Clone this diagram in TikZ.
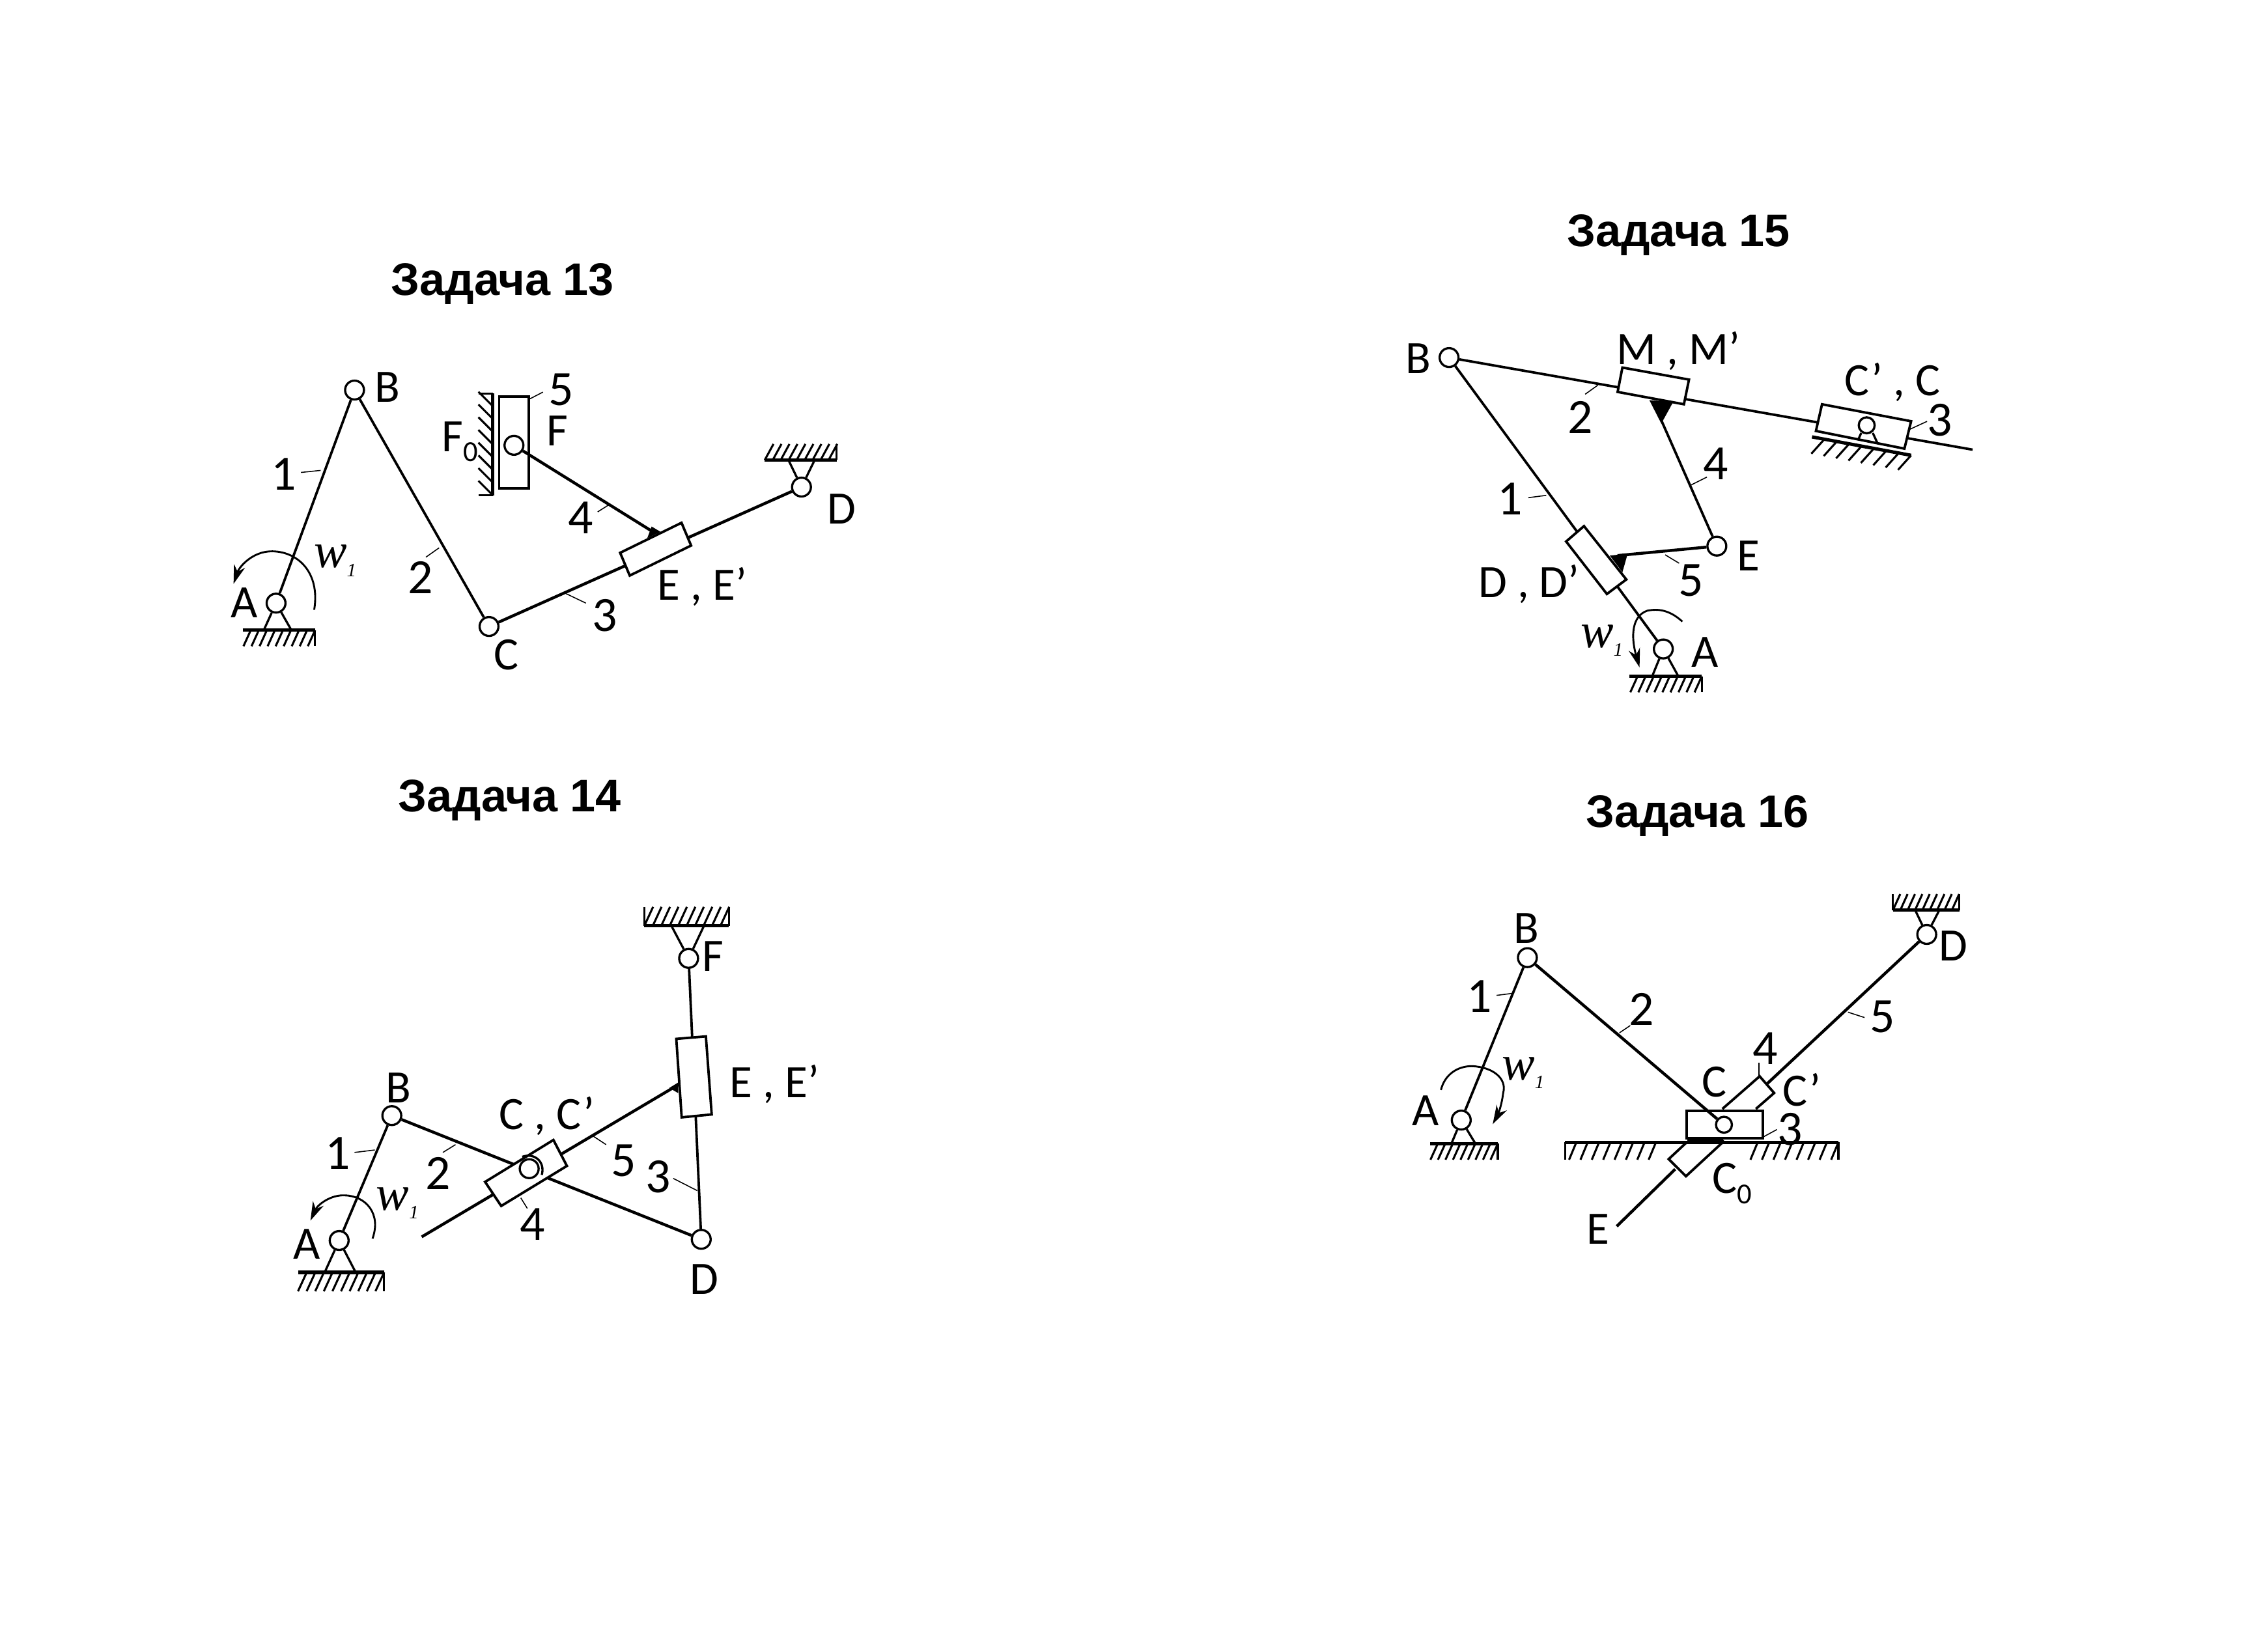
\documentclass[tikz,border=0pt]{standalone}
\usepackage{fontspec}
\setmainfont{Carlito}
\newfontfamily\titlefont{Liberation Sans}
\newfontfamily\omegafont{Liberation Serif}
\usetikzlibrary{calc,arrows.meta}
\tikzset{
  joint/.style={circle,draw=black,fill=white,line width=1.5pt,minimum size=13pt,inner sep=0pt},
  link/.style={draw=black,line width=2pt},
  thinlink/.style={draw=black,line width=1.7pt},
  support/.style={draw=black,line width=1.5pt},
  sliderbox/.style={draw=black,fill=white,line width=1.7pt,line join=miter},
  leadline/.style={draw=black,line width=0.7pt},
  wallline/.style={draw=black,line width=2.3pt},
  hatchline/.style={draw=black,line width=1.4pt},
  spinarrow/.style={draw=black,line width=1.3pt,-{Stealth[length=13pt,width=8pt]}},
  lbl/.style={font=\fontsize{32}{33}\selectfont,inner sep=0pt},
  numlbl/.style={font=\fontsize{34}{36}\selectfont,inner sep=0pt},
  titlelbl/.style={font=\titlefont\bfseries\fontsize{31.5}{33}\selectfont,inner sep=0pt},
  omegalbl/.style={font=\omegafont\itshape\fontsize{34}{35}\selectfont,inner sep=0pt},
  blacktri/.style={fill=black,draw=none}
}
\newcommand\omegatext{w\raisebox{-6pt}{\fontsize{13}{14}\selectfont 1}}
\newcommand\wallhatch[5]{%
  \draw[wallline] (#1) -- (#2);
  \foreach \i in {1,...,#3}{\draw[hatchline] ($(#1)!\i/#3!(#2)$) -- ++(#4,#5);}
}
\begin{document}
\begin{tikzpicture}[x=1pt,y=-1pt]
\useasboundingbox (0,0) rectangle (1560,1138.5);
\fill[white] (0,0) rectangle (1560,1138.5);
\begin{scope}[shift={(-1,-1.5)}]

% ---------- Problem 13 ----------
\node[titlelbl] (t13) at (347.5,197) {Задача 13};
\coordinate (g13a) at (168.3,436); \coordinate (g13b) at (218.2,436);
\wallhatch{g13a}{g13b}{9}{-5}{11}
\draw[hatchline] (g13b) -- ++(0,11);
\coordinate (g13c) at (577.7,318.6); \coordinate (g13d) at (528.2,318.6);
\wallhatch{g13c}{g13d}{9}{6}{-11}
\draw[hatchline] (g13c) -- ++(0,-11);
\coordinate (w13a) at (340.8,272.8); \coordinate (w13b) at (340.8,343);
\wallhatch{w13a}{w13b}{8}{-10}{-10}
\draw[hatchline] (w13a) -- ++(-10,0);
\draw[hatchline] (w13b) -- ++(-10,0);
\node[joint] (A13) at (191.3,417.3) {};
\node[joint] (B13) at (245.4,270.4) {};
\node[joint] (C13) at (338.1,433.4) {};
\node[joint] (D13) at (553.5,337.3) {};
\draw[support] (A13) -- (182.8,436);
\draw[support] (A13) -- (201.9,436);
\draw[support] (D13) -- (544.5,318.6);
\draw[support] (D13) -- (562.6,318.6);
\draw[thinlink] (A13) -- (B13);
\draw[thinlink] (B13) -- (C13);
\draw[link] (C13) -- (D13);
\draw[sliderbox] (428.5,382.6) -- (470.8,361.9) -- (477.4,377.6) -- (435.1,398.3) -- cycle;
\draw[sliderbox] (345.1,274.9) rectangle (365.6,338.3);
\node[joint] (F13) at (355.3,308.5) {};
\coordinate (E13) at (451.7,368.5);
\draw[link] (F13) -- (E13);
\fill[blacktri] (447.2,372.5) -- (456.3,368.1) -- (450.2,364.5) -- cycle;
\draw[spinarrow] (217.6,421.9) .. controls (222,395) and (205,381) .. (187.4,381.6) .. controls (175,382) and (166,392) .. (162,404);
\draw[leadline] (208.5,327.2) -- (222,325.8);
\draw[leadline] (294.6,385.6) -- (303.7,379.2);
\draw[leadline] (391.3,410.8) -- (404.9,417.3);
\draw[leadline] (413,354.4) -- (420.9,349.4);
\draw[leadline] (366.2,276.5) -- (375.3,271.8);
\node[numlbl] (n13a) at (196.4,328.2) {1};
\node[numlbl] (n13b) at (290.7,399.7) {2};
\node[numlbl] (n13c) at (417.9,425.9) {3};
\node[numlbl] (n13d) at (401.3,358.4) {4};
\node[numlbl] (n13e) at (387.8,270) {5};
\node[lbl] (l13A) at (169.2,417) {A};
\node[lbl] (l13B) at (268,268.5) {B};
\node[lbl] (l13C) at (350,453) {C};
\node[lbl] (l13D) at (581,352.4) {D};
\node[lbl] (l13F) at (385.3,298.5) {F};
\node[lbl] (l13Fo) at (318,306) {F\raisebox{-7pt}{\fontsize{20}{20}\selectfont 0}};
\node[lbl] (l13E) at (485,406) {E , E’};
\node[omegalbl] (l13w) at (232,388) {\omegatext};

% ---------- Problem 14 ----------
\node[titlelbl] (t14) at (352.5,553.4) {Задача 14};
\coordinate (g14a) at (206.5,878.7); \coordinate (g14b) at (265.8,878.7);
\wallhatch{g14a}{g14b}{10}{-6}{13}
\draw[hatchline] (g14b) -- ++(0,13);
\coordinate (g14c) at (503.5,639.7); \coordinate (g14d) at (445.2,639.7);
\wallhatch{g14c}{g14d}{10}{6}{-13}
\draw[hatchline] (g14c) -- ++(0,-13);
\draw[hatchline] (g14d) -- ++(0,-13);
\node[joint] (A14) at (234.8,856.7) {};
\node[joint] (B14) at (271.1,770.6) {};
\node[joint] (D14) at (484.4,855.9) {};
\node[joint] (F14) at (475.7,662.2) {};
\draw[support] (A14) -- (224.8,878.7);
\draw[support] (A14) -- (246.2,878.7);
\draw[support] (F14) -- (463.8,639.7);
\draw[support] (F14) -- (486.3,639.7);
\draw[thinlink] (A14) -- (B14);
\draw[link] (B14) -- (D14);
\draw[thinlink] (F14) -- (D14);
\coordinate (e14a) at (291.7,854.2);
\coordinate (E14) at (469.1,749);
\draw[link] (e14a) -- (E14);
\draw[sliderbox] (467.2,717.7) -- (487.6,716) -- (491.6,769.8) -- (470.9,771.8) -- cycle;
\draw[sliderbox] (335.4,816.3) -- (382.5,787.4) -- (391.8,805.3) -- (346.5,832.9) -- cycle;
\fill[blacktri] (462.4,751.5) -- (468.5,747.8) -- (468.5,755.1) -- cycle;
\node[joint] (C14) at (365.8,807.2) {};
\draw[support] (361,799) .. controls (369,796) and (377,802) .. (374.5,811.5);
\draw[spinarrow] (257.8,855.4) .. controls (264,838) and (253,826) .. (238.8,825.6) .. controls (229,825) and (220,832) .. (215,843);
\draw[leadline] (245.4,796) -- (259.4,794.3);
\draw[leadline] (306.3,796) -- (315,790.6);
\draw[leadline] (409.5,784.5) -- (418.8,790.6);
\draw[leadline] (465.1,813.9) -- (481.8,822.4);
\draw[leadline] (360,827.3) -- (364.5,834.6);
\node[numlbl] (n14a) at (234,796.7) {1};
\node[numlbl] (n14b) at (302.8,810.2) {2};
\node[numlbl] (n14c) at (454.5,812.6) {3};
\node[numlbl] (n14d) at (368,845.6) {4};
\node[numlbl] (n14e) at (430.7,801.6) {5};
\node[lbl] (l14A) at (212.3,859.1) {A};
\node[lbl] (l14B) at (275.8,751.5) {B};
\node[lbl] (l14C) at (378,771) {C , C’};
\node[lbl] (l14D) at (486.3,883.6) {D};
\node[lbl] (l14E) at (535,749) {E , E’};
\node[lbl] (l14F) at (492.4,661) {F};
\node[omegalbl] (l14w) at (275,831) {\omegatext};

% ---------- Problem 15 ----------
\node[titlelbl] (t15) at (1158,163.5) {Задача 15};
\coordinate (g15a) at (1124.3,467.8); \coordinate (g15b) at (1174.1,467.8);
\wallhatch{g15a}{g15b}{9}{-5}{11}
\draw[hatchline] (g15b) -- ++(0,11);
\coordinate (g15c) at (1250.1,302.7); \coordinate (g15d) at (1318.4,315.4);
\wallhatch{g15c}{g15d}{8}{-9}{10}
\node[joint] (B15) at (999.9,248) {};
\node[joint] (A15) at (1147.6,448.9) {};
\node[joint] (E15) at (1184.5,378) {};
\coordinate (e15end) at (1360.8,311.5);
\draw[support] (A15) -- (1139.9,467.8);
\draw[support] (A15) -- (1158,467.8);
\draw[thinlink] (B15) -- (A15);
\draw[thinlink] (B15) -- (e15end);
\draw[sliderbox] (1119.4,254.9) -- (1165.3,263.2) -- (1161.8,280.2) -- (1116.1,271.7) -- cycle;
\draw[sliderbox] (1257,280.2) -- (1318.4,291.9) -- (1313.8,310.8) -- (1252.8,298.6) -- cycle;
\draw[sliderbox] (1092.9,364.2) -- (1122.1,401) -- (1108.7,411) -- (1080.6,374.8) -- cycle;
\draw[support] (1284,300) -- (1282,304.5);
\draw[support] (1292,300) -- (1295,306.5);
\node[joint,minimum size=11pt] (C15) at (1287.8,294.7) {};
\coordinate (M15) at (1146.2,291.2);
\coordinate (D15) at (1116,384.5);
\draw[thinlink] (M15) -- (E15);
\draw[link] (D15) -- (E15);
\fill[blacktri] (1138,277.4) -- (1154.4,278.6) -- (1146.2,293.5) -- cycle;
\fill[blacktri] (1110.7,384.5) -- (1123,383.3) -- (1119.4,396) -- cycle;
\draw[spinarrow] (1160.7,430) .. controls (1152,422) and (1144,421) .. (1136.6,422.5) .. controls (1126,426) and (1125,440) .. (1131.2,461.6);
\draw[leadline] (1317,297.7) -- (1329.4,292);
\draw[leadline] (1093.7,273.3) -- (1102.5,267);
\draw[leadline] (1166.2,336.1) -- (1177.6,330.4);
\draw[leadline] (1054.6,344.6) -- (1066.9,343);
\draw[leadline] (1148.9,384) -- (1158.5,389.8);
\node[numlbl] (n15a) at (1041.8,345.3) {1};
\node[numlbl] (n15b) at (1090.2,289) {2};
\node[numlbl] (n15c) at (1338.4,291.2) {3};
\node[numlbl] (n15d) at (1183.6,321.2) {4};
\node[numlbl] (n15e) at (1166.7,401.7) {5};
\node[lbl] (l15A) at (1176.3,451.2) {A};
\node[lbl] (l15B) at (978.6,248.7) {B};
\node[lbl] (l15C) at (1305.5,265) {C’ , C};
\node[lbl] (l15D) at (1055,404) {D , D’};
\node[lbl] (l15E) at (1206.3,384.5) {E};
\node[lbl] (l15M) at (1158,243.5) {M , M’};
\node[omegalbl] (l15w) at (1105.2,443.2) {\omegatext};

% ---------- Problem 16 ----------
\node[titlelbl] (t16) at (1171,564) {Задача 16};
\coordinate (g16a) at (986.9,790); \coordinate (g16b) at (1033.5,790);
\wallhatch{g16a}{g16b}{9}{-5}{11}
\draw[hatchline] (g16b) -- ++(0,11);
\coordinate (g16c) at (1351.6,628.9); \coordinate (g16d) at (1305.9,628.9);
\wallhatch{g16c}{g16d}{9}{5}{-11}
\draw[hatchline] (g16c) -- ++(0,-11);
\draw[hatchline] (g16d) -- ++(0,-11);
\coordinate (g16e) at (1079.8,789); \coordinate (g16f) at (1142.5,789);
\wallhatch{g16e}{g16f}{8}{-5}{12}
\coordinate (g16g) at (1204.7,789); \coordinate (g16h) at (1268.3,789);
\wallhatch{g16g}{g16h}{8}{-5}{12}
\draw[wallline] (g16f) -- (g16g);
\draw[hatchline] (g16h) -- ++(0,12);
\draw[hatchline] (g16e) -- ++(0,12);
\draw[wallline] (1164,787.5) -- (1189,787.5);
\node[joint] (A16) at (1008.3,773.7) {};
\node[joint] (B16) at (1053.9,661.7) {};
\node[joint] (D16) at (1329.2,645.7) {};
\coordinate (E16) at (1115.5,846.9);
\draw[support] (A16) -- (1001.5,790);
\draw[support] (A16) -- (1018.1,790);
\draw[support] (D16) -- (1321.2,628.9);
\draw[support] (D16) -- (1337.9,628.9);
\draw[thinlink] (A16) -- (B16);
\coordinate (s16u) at (1219.3,748.5);
\coordinate (s16l) at (1155.8,807.5);
\draw[link] (D16) -- (s16u);
\draw[link] (s16l) -- (E16);
\draw[sliderbox,fill=none] (1188.3,766) -- (1214,743.5) -- (1224,755) -- (1211.4,766);
\draw[sliderbox,fill=none] (1163.7,789) -- (1151.3,800.6) -- (1163.2,812.4) -- (1189.6,788);
\draw[sliderbox] (1163.7,767.5) rectangle (1216.1,786.3);
\node[joint,minimum size=11pt] (C16) at (1189.4,776.9) {};
\draw[link] (B16) -- (C16);
\draw[spinarrow] (994.3,752.9) .. controls (997,742) and (1006,736.5) .. (1015.5,736.5) .. controls (1030,737) and (1040,745) .. (1037.2,755) .. controls (1036,765) and (1033,771) .. (1030,776.5);
\draw[leadline] (1032.7,687.7) -- (1044.6,686.2);
\draw[leadline] (1117.4,713.5) -- (1124.8,708.5);
\draw[leadline] (1274.9,699.3) -- (1286.3,703);
\draw[leadline] (1213.5,734.3) -- (1213.5,743);
\draw[leadline] (1216.7,785.2) -- (1225.9,780.2);
\node[numlbl] (n16a) at (1020.8,688.4) {1};
\node[numlbl] (n16b) at (1132.5,697.1) {2};
\node[numlbl] (n16c) at (1235,780) {3};
\node[numlbl] (n16d) at (1218,724.4) {4};
\node[numlbl] (n16e) at (1298.7,702.6) {5};
\node[lbl] (l16A) at (983.7,767.1) {A};
\node[lbl] (l16B) at (1053.3,641.4) {B};
\node[lbl] (l16C) at (1182.8,747.4) {C};
\node[lbl] (l16Cp) at (1243,753) {C’};
\node[lbl] (l16Co) at (1195,817.4) {C\raisebox{-7pt}{\fontsize{20}{20}\selectfont 0}};
\node[lbl] (l16D) at (1347.7,653.4) {D};
\node[lbl] (l16E) at (1102.8,849.1) {E};
\node[omegalbl] (l16w) at (1051,741) {\omegatext};
\end{scope}
\end{tikzpicture}
\end{document}
